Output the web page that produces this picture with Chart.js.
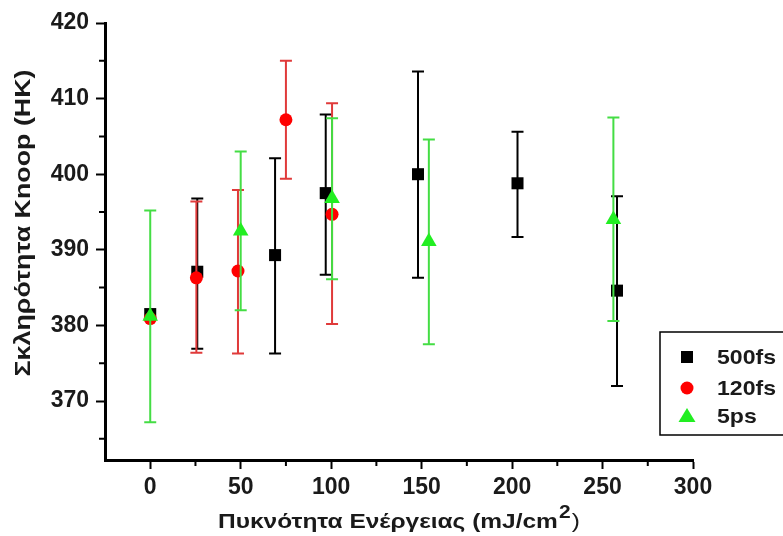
<!DOCTYPE html>
<html>
  <head>
    <title>Knoop hardness vs energy density</title>
    <script src="https://cdn.jsdelivr.net/npm/chart.js"></script>
    <style>
      body { margin: 0; background: #fff; }
    </style>
  </head>
  <body>
    <canvas id="myChart" width="783" height="536"></canvas>

    <script>
      // values
      const seriesNames = ["500fs", "120fs", "5ps"];

      const energy500 = [0, 26, 69, 97, 148, 203, 258];
      const hard500 = [381.5, 387.1, 389.3, 397.5, 400.0, 398.8, 384.6];
      const low500 = [null, 376.9, 376.3, 386.7, 386.3, 391.7, 372.0];
      const high500 = [null, 396.8, 402.1, 407.9, 413.6, 405.6, 397.1];

      const energy120 = [0, 25.5, 48.5, 75, 100.5];
      const hard120 = [380.9, 386.3, 387.2, 407.2, 394.7];
      const low120 = [null, 376.4, 376.3, 399.4, 380.2];
      const high120 = [null, 396.4, 397.9, 415.0, 409.4];

      const energy5 = [0, 50, 100.5, 154, 256];
      const hard5 = [381.2, 392.5, 396.8, 391.1, 394.0];
      const low5 = [367.2, 382.0, 386.1, 377.5, 380.6];
      const high5 = [395.2, 403.0, 407.4, 404.6, 407.5];

      const xTicks = [0, 50, 100, 150, 200, 250, 300];
      const xMinorTicks = [25, 75, 125, 175, 225, 275];
      const yTicks = [370, 380, 390, 400, 410, 420];
      const yMinorTicks = [365, 375, 385, 395, 405, 415];

      const textColor = "#1a1a1a";
      const fam = "'Liberation Sans', Arial, sans-serif";

      function pts(xs, ys) {
        return xs.map((x, i) => ({ x: x, y: ys[i] }));
      }

      // vertical error bars, drawn just under each dataset's markers
      const errorBars = {
        id: "errorBars",
        beforeDatasetDraw(chart, args) {
          const ds = chart.data.datasets[args.index];
          const yScale = chart.scales.y;
          const ctx = chart.ctx;
          ctx.save();
          ctx.strokeStyle = ds.barColor;
          ctx.lineWidth = 2;
          ds.errLow.forEach((lo, i) => {
            const hi = ds.errHigh[i];
            if (lo == null || hi == null) return;
            const px = args.meta.data[i].x;
            const top = yScale.getPixelForValue(hi);
            const bot = yScale.getPixelForValue(lo);
            ctx.beginPath();
            ctx.moveTo(px, top);
            ctx.lineTo(px, bot);
            ctx.moveTo(px - 6, top);
            ctx.lineTo(px + 6, top);
            ctx.moveTo(px - 6, bot);
            ctx.lineTo(px + 6, bot);
            ctx.stroke();
          });
          ctx.restore();
        },
      };

      function marker(ctx, style, x, y, color) {
        ctx.fillStyle = color;
        ctx.beginPath();
        if (style === "rect") {
          ctx.rect(x - 6, y - 6, 12, 12);
        } else if (style === "circle") {
          ctx.arc(x, y, 6.5, 0, Math.PI * 2);
        } else {
          ctx.moveTo(x, y - 8);
          ctx.lineTo(x + 8.5, y + 6);
          ctx.lineTo(x - 8.5, y + 6);
          ctx.closePath();
        }
        ctx.fill();
      }

      // minor ticks, axis titles and the boxed legend
      const extras = {
        id: "extras",
        afterDraw(chart) {
          const ctx = chart.ctx;
          const xs = chart.scales.x;
          const ys = chart.scales.y;
          const area = chart.chartArea;
          ctx.save();
          ctx.strokeStyle = "#000";
          ctx.lineWidth = 2;
          ctx.beginPath();
          xMinorTicks.forEach((v) => {
            const p = xs.getPixelForValue(v);
            ctx.moveTo(p, area.bottom);
            ctx.lineTo(p, area.bottom + 6);
          });
          yMinorTicks.forEach((v) => {
            const p = ys.getPixelForValue(v);
            ctx.moveTo(area.left, p);
            ctx.lineTo(area.left - 6, p);
          });
          ctx.stroke();

          // x title with superscript, a little wider than the plain font
          ctx.fillStyle = textColor;
          ctx.textBaseline = "alphabetic";
          ctx.textAlign = "left";
          const main = "Πυκνότητα Ενέργειας (mJ/cm";
          const sup = "2";
          const end = ")";
          ctx.font = "bold 21px " + fam;
          const wMain = ctx.measureText(main).width;
          ctx.font = "21px " + fam;
          const wEnd = ctx.measureText(end).width;
          ctx.font = "bold 18px " + fam;
          const wSup = ctx.measureText(sup).width;
          const total = wMain + wSup + wEnd + 2;
          const sx = 362 / total;
          ctx.save();
          ctx.translate(218, 528);
          ctx.scale(sx, 1);
          ctx.font = "bold 21px " + fam;
          ctx.fillText(main, 0, 0);
          ctx.font = "bold 18px " + fam;
          ctx.fillText(sup, wMain + 1, -10);
          ctx.font = "21px " + fam;
          ctx.fillText(end, wMain + wSup + 2, 0);
          ctx.restore();

          // y title
          ctx.save();
          ctx.translate(24, 223);
          ctx.rotate(-Math.PI / 2);
          ctx.font = "bold 22px " + fam;
          const yTitle = "Σκληρότητα Κnoop (HK)";
          const wy = ctx.measureText(yTitle).width;
          ctx.scale(307 / wy, 1);
          ctx.textAlign = "center";
          ctx.textBaseline = "middle";
          ctx.fillText(yTitle, 0, 0);
          ctx.restore();

          // legend
          ctx.lineWidth = 1.5;
          ctx.strokeStyle = "#000";
          ctx.strokeRect(660, 332, 140, 103);
          const rows = [357, 388, 416];
          chart.data.datasets.forEach((ds, i) => {
            marker(ctx, ds.pointStyle, 687, rows[i], ds.pointBackgroundColor);
            ctx.save();
            ctx.fillStyle = textColor;
            ctx.font = "bold 21px " + fam;
            ctx.textAlign = "left";
            ctx.textBaseline = "middle";
            ctx.translate(717, rows[i] + 1);
            ctx.scale(1.1, 1);
            ctx.fillText(ds.label, 0, 0);
            ctx.restore();
          });
          ctx.restore();
        },
      };

      const chartData = {
        datasets: [
          {
            label: seriesNames[0],
            data: pts(energy500, hard500),
            errLow: low500,
            errHigh: high500,
            barColor: "#000000",
            pointStyle: "rect",
            pointRadius: 8.5,
            pointBackgroundColor: "#000000",
            pointBorderWidth: 0,
            showLine: false,
            order: 2,
          },
          {
            label: seriesNames[1],
            data: pts(energy120, hard120),
            errLow: low120,
            errHigh: high120,
            barColor: "#e03a3a",
            pointStyle: "circle",
            pointRadius: 6.5,
            pointBackgroundColor: "#ff0000",
            pointBorderWidth: 0,
            showLine: false,
            order: 1,
          },
          {
            label: seriesNames[2],
            data: pts(energy5, hard5),
            errLow: low5,
            errHigh: high5,
            barColor: "#44dd44",
            pointStyle: "triangle",
            pointRadius: 9,
            pointBackgroundColor: "#22ee22",
            pointBorderWidth: 0,
            showLine: false,
            order: 0,
          },
        ],
      };

      const tickFont = { family: fam, size: 23, weight: "bold" };

      const chartOptions = {
        responsive: false,
        animation: false,
        layout: { padding: { left: 0, top: 23, right: 90, bottom: 0 } },
        plugins: { legend: { display: false }, tooltip: { enabled: false } },
        scales: {
          x: {
            type: "linear",
            min: -25,
            max: 300,
            afterBuildTicks: (axis) => {
              axis.ticks = xTicks.map((v) => ({ value: v }));
            },
            afterFit: (axis) => {
              axis.height = 76;
            },
            grid: {
              drawOnChartArea: false,
              drawTicks: true,
              tickLength: 9,
              tickWidth: 2,
              tickColor: "#000",
            },
            border: { display: true, color: "#000", width: 3 },
            ticks: { color: textColor, font: tickFont, padding: 5, maxRotation: 0 },
          },
          y: {
            type: "linear",
            min: 362.2,
            max: 420,
            afterBuildTicks: (axis) => {
              axis.ticks = yTicks.map((v) => ({ value: v }));
            },
            afterFit: (axis) => {
              axis.width = 105;
            },
            grid: {
              drawOnChartArea: false,
              drawTicks: true,
              tickLength: 9,
              tickWidth: 2,
              tickColor: "#000",
            },
            border: { display: true, color: "#000", width: 3 },
            ticks: { color: textColor, font: tickFont, padding: 7 },
          },
        },
      };

      const myChart = new Chart(document.getElementById("myChart"), {
        type: "scatter",
        data: chartData,
        options: chartOptions,
        plugins: [errorBars, extras],
      });
    </script>
  </body>
</html>
